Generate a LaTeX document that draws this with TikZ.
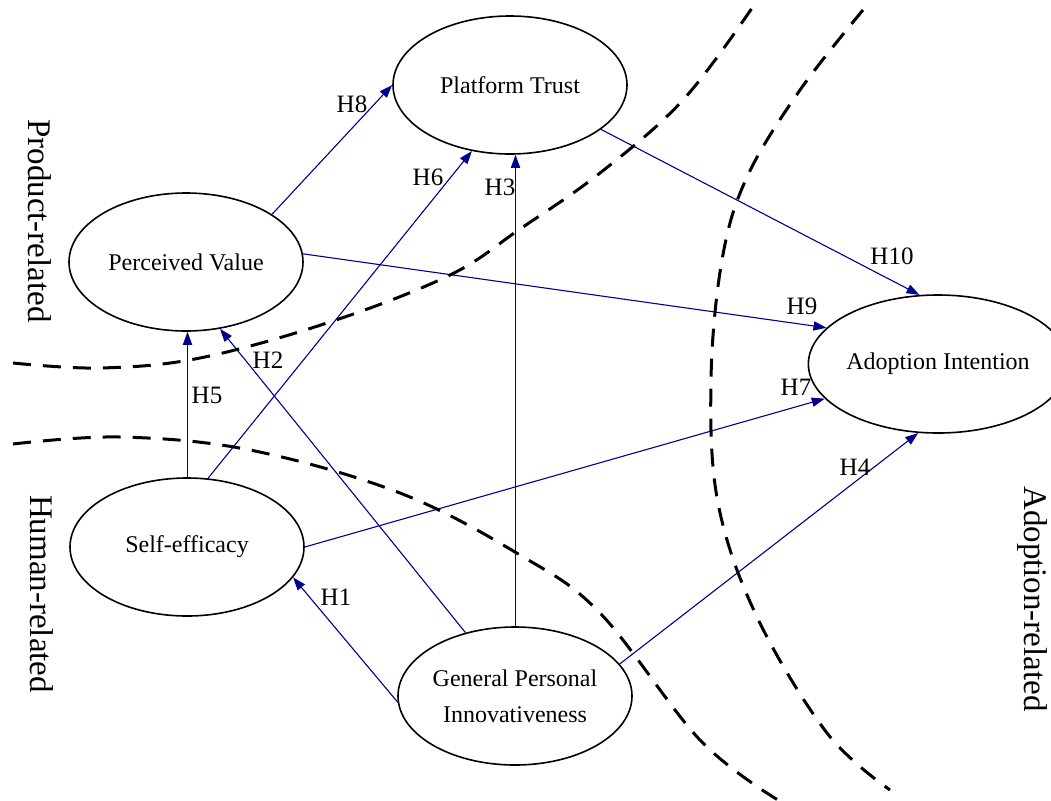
\documentclass[tikz,border=0pt]{standalone}
\usepackage{fontspec}
\setmainfont{Liberation Serif}
\usetikzlibrary{shapes.geometric,arrows.meta}
\definecolor{linkblue}{RGB}{0,0,140}
\begin{document}
\begin{tikzpicture}[x=0.5pt,y=-0.5pt,
  construct/.style={ellipse,draw=black,line width=0.8pt,minimum width=117pt,
    minimum height=69pt,inner sep=0pt,align=center,
    font=\fontsize{12}{18}\selectfont},
  link/.style={draw=linkblue,line width=0.55pt,
    -{Triangle[length=6.5pt,width=4.6pt]}},
  hyp/.style={inner sep=0pt,font=\fontsize{12.5}{15}\selectfont},
  zonelabel/.style={rotate=-90,inner sep=0pt,font=\fontsize{16.5}{19}\selectfont},
  boundary/.style={line width=1.5pt,dash pattern=on 9pt off 6pt}
]
\useasboundingbox (0,0) rectangle (1051,800);

% constructs
\node[construct] (pt)  at (510,85)  {Platform Trust};
\node[construct] (pv)  at (186,262) {Perceived Value};
\node[construct] (se)  at (187,547) {Self-efficacy};
\node[construct] (gpi) at (515,696) {General Personal\\Innovativeness};
\node[construct] (ai)  at (938,364) {Adoption Intention};

% start points of the two vertical paths, set on a pixel centre
\coordinate (gpitop) at ([xshift=0.25pt]gpi.north);
\coordinate (setop)  at ([xshift=0.25pt]se.north);

% hypothesised paths
\draw[link] (gpi.183) -- (se.344);
\draw[link] (gpi.128) -- (pv.297);
\draw[link] (gpitop) -- (gpitop |- pt.south);
\draw[link] (gpi.17) -- (ai.254);
\draw[link] (setop) -- (setop |- pv.south);
\draw[link] (se.73) -- (pt.240);
\draw[link] (se.east) -- (ai.197);
\draw[link] (pv.29) -- (pt.west);
\draw[link] (pv.4) -- (ai.162);
\draw[link] (pt.334) -- (ai.105);

% path labels
\node[hyp] (lh1)  at (336,597) {H1};
\node[hyp] (lh2)  at (268,360) {H2};
\node[hyp] (lh3)  at (500,187) {H3};
\node[hyp] (lh4)  at (855,467) {H4};
\node[hyp] (lh5)  at (207,395) {H5};
\node[hyp] (lh6)  at (428,177) {H6};
\node[hyp] (lh7)  at (796,387) {H7};
\node[hyp] (lh8)  at (352,104) {H8};
\node[hyp] (lh9)  at (802,306) {H9};
\node[hyp] (lh10) at (892,256) {H10};

% zone boundaries
\draw[boundary] plot[smooth,tension=0.6] coordinates {
  (13,363) (100,368) (200,358) (330,322) (450,275) (520,229)
  (600,173) (683,100) (752,8)};
\draw[boundary] plot[smooth,tension=0.6] coordinates {
  (13,444) (120,437) (250,450) (400,493) (520,555) (600,613)
  (700,740) (778,800)};
\draw[boundary] plot[smooth,tension=0.6] coordinates {
  (863,10) (800,90) (747,177) (722,260) (711,380) (718,503)
  (757,617) (827,733) (890,790)};

% zone labels
\node[zonelabel] (zprod)  at (40,221)   {Product-related};
\node[zonelabel] (zhuman) at (42,594)   {Human-related};
\node[zonelabel] (zadopt) at (1032,599) {Adoption-related};
\end{tikzpicture}
\end{document}
